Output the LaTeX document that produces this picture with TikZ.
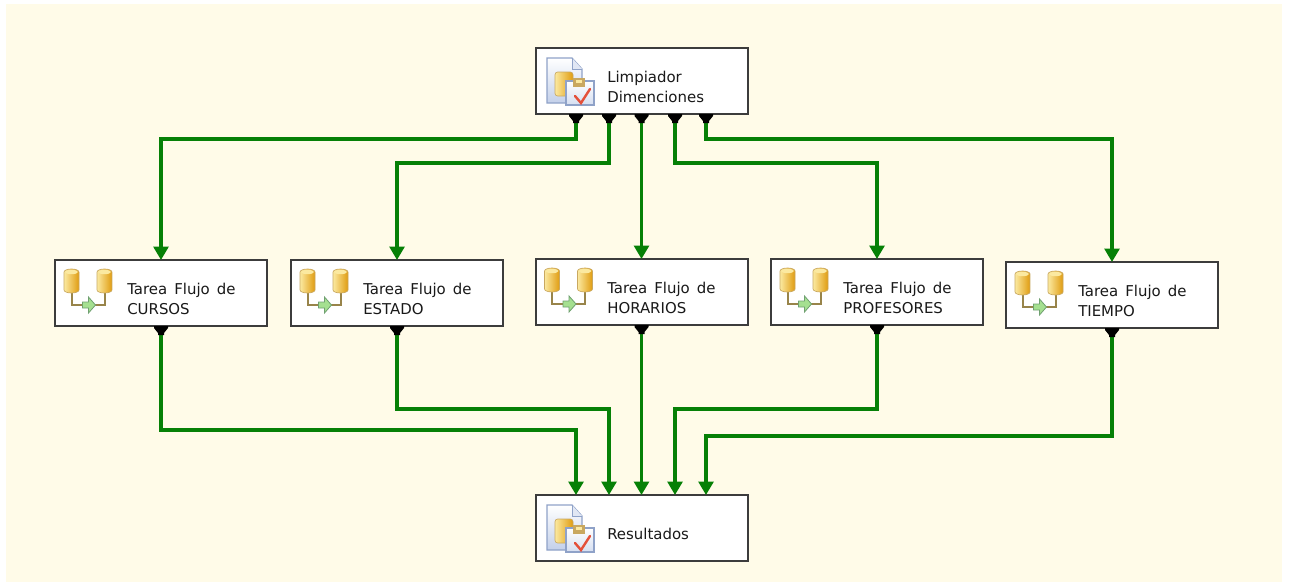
\documentclass[tikz,border=0pt]{standalone}
\usepackage{fontspec}
\setmainfont[WordSpace=1.5]{DejaVu Sans}
\usetikzlibrary{arrows.meta,calc}
\definecolor{bgc}{HTML}{FFFBE8}
\definecolor{flow}{HTML}{068006}
\definecolor{boxline}{HTML}{3C3C3C}
\definecolor{goldA}{HTML}{FBE9A0}
\definecolor{goldB}{HTML}{E09C10}
\definecolor{goldE}{HTML}{C9A860}
\definecolor{pipec}{HTML}{98844A}
\definecolor{pagec}{HTML}{C3D0EA}
\definecolor{pageb}{HTML}{8FA2C8}
\definecolor{checkc}{HTML}{E4503A}
\definecolor{arrl}{HTML}{A5E090}
\definecolor{arrd}{HTML}{6FA070}
\tikzset{
  x=0.75pt,y=-0.75pt,
  taskbox/.style={draw=boxline,line width=1.5pt,fill=white,minimum width=159pt,minimum height=49.5pt,inner sep=0pt,outer sep=0pt},
  lab/.style={anchor=west,align=left,font=\fontsize{11.2pt}{15.3pt}\selectfont,text=black!90,inner sep=0pt},
  link/.style={draw=flow,line width=2.7pt,-{Triangle[length=10pt,width=11pt]}},
  port/.style={fill=black,draw=none},
  cyl/.pic={
    \shade[left color=goldA,right color=goldB,draw=goldE,line width=.5pt]
      (-7.5,3) -- (-7.5,21) arc[x radius=7.5,y radius=3,start angle=180,end angle=0] -- (7.5,3) arc[x radius=7.5,y radius=3,start angle=0,end angle=-180] -- cycle;
    \fill[goldA] (0,3) ellipse[x radius=6.5,y radius=2.2];
  },
  flowicon/.pic={
    \draw[pipec,line width=1.5pt] (0,20) -- (0,36) -- (33,36) -- (33,20);
    \pic at (0,0) {cyl};
    \pic at (33,0) {cyl};
    \draw[arrd,fill=arrl,line width=.6pt] (11,33) -- (17,33) -- (17,28) -- (24,36) -- (17,44) -- (17,39) -- (11,39) -- cycle;
  },
  scripticon/.pic={
    \shade[top color=white,bottom color=pagec,draw=pageb,line width=.9pt] (0,0) -- (25,0) -- (35,11) -- (35,45) -- (0,45) -- cycle;
    \draw[pageb,fill=pagec!50!white,line width=.6pt] (25,0) -- (25,11) -- (35,11);
    \shade[left color=goldA,right color=goldB,draw=goldE,line width=.5pt,rounded corners=2pt] (8,14) rectangle (26,38);
    \shade[top color=white,bottom color=pagec!70!white,draw=pageb,line width=.8pt] (19,23) rectangle (47,47);
    \fill[goldE] (26,20) rectangle (38,29);
    \fill[goldA] (29,22) rectangle (35,25);
    \draw[checkc,line width=1.8pt,line cap=round] (28,38) -- (34,45) -- (43,31);
  }
}
\begin{document}
\begin{tikzpicture}
\useasboundingbox (0,0) rectangle (1290,582);
\fill[white] (0,0) rectangle (1290,582);
\fill[bgc] (6,4) rectangle (1282,582);

\node[taskbox] (top) at (641.5,81) {};
\node[taskbox] (cursos) at (161,293) {};
\node[taskbox] (estado) at (397,293) {};
\node[taskbox] (horarios) at (641.5,292) {};
\node[taskbox] (prof) at (877,292) {};
\node[taskbox] (tiempo) at (1112,295) {};
\node[taskbox] (res) at (641.5,528) {};

\node[lab] (ltop) at (607,87) {Limpiador\\Dimenciones};
\node[lab] (lcursos) at (127,299) {Tarea Flujo de\\CURSOS};
\node[lab] (lestado) at (363,299) {Tarea Flujo de\\ESTADO};
\node[lab] (lhorarios) at (607,298) {Tarea Flujo de\\HORARIOS};
\node[lab] (lprof) at (843,298) {Tarea Flujo de\\PROFESORES};
\node[lab] (ltiempo) at (1078,301) {Tarea Flujo de\\TIEMPO};
\node[lab] (lres) at (607,534) {Resultados};

\pic at (547,58) {scripticon};
\pic at (547,505) {scripticon};
\foreach \b in {cursos,estado,horarios,prof,tiempo}
  \pic at ($(\b.center)+(-89.5,-24)$) {flowicon};

% output ports of the top box and input points of the bottom box
\coordinate (pa) at ($(top.south)+(-65.5,0)$);
\coordinate (pb) at ($(top.south)+(-32.5,0)$);
\coordinate (pd) at ($(top.south)+(33.5,0)$);
\coordinate (pe) at ($(top.south)+(64.5,0)$);
\coordinate (ia) at ($(res.north)+(-65.5,0)$);
\coordinate (ib) at ($(res.north)+(-32.5,0)$);
\coordinate (id) at ($(res.north)+(33.5,0)$);
\coordinate (ie) at ($(res.north)+(64.5,0)$);
\coordinate (hi) at (0,139);
\coordinate (mid) at (0,163);
\coordinate (ln) at (0,409);
\coordinate (lm) at (0,430);
\coordinate (lf) at (0,436);

\draw[link] (pa) -- (pa |- hi) -- (cursos.north |- hi) -- (cursos.north);
\draw[link] (pb) -- (pb |- mid) -- (estado.north |- mid) -- (estado.north);
\draw[link] (top.south) -- (horarios.north);
\draw[link] (pd) -- (pd |- mid) -- (prof.north |- mid) -- (prof.north);
\draw[link] (pe) -- (pe |- hi) -- (tiempo.north |- hi) -- (tiempo.north);

\draw[link] (cursos.south) -- (cursos.south |- lm) -- (ia |- lm) -- (ia);
\draw[link] (estado.south) -- (estado.south |- ln) -- (ib |- ln) -- (ib);
\draw[link] (horarios.south) -- (res.north);
\draw[link] (prof.south) -- (prof.south |- ln) -- (id |- ln) -- (id);
\draw[link] (tiempo.south) -- (tiempo.south |- lf) -- (ie |- lf) -- (ie);

\foreach \c in {pa,pb,top.south,pd,pe,cursos.south,estado.south,horarios.south,prof.south,tiempo.south}
  \fill[port] ($(\c)+(-7,0)$) -- ($(\c)+(7,0)$) -- ($(\c)+(7,2)$) -- ($(\c)+(3,7)$) -- ($(\c)+(3,9)$) -- ($(\c)+(-3,9)$) -- ($(\c)+(-3,7)$) -- ($(\c)+(-7,2)$) -- cycle;
\end{tikzpicture}
\end{document}
